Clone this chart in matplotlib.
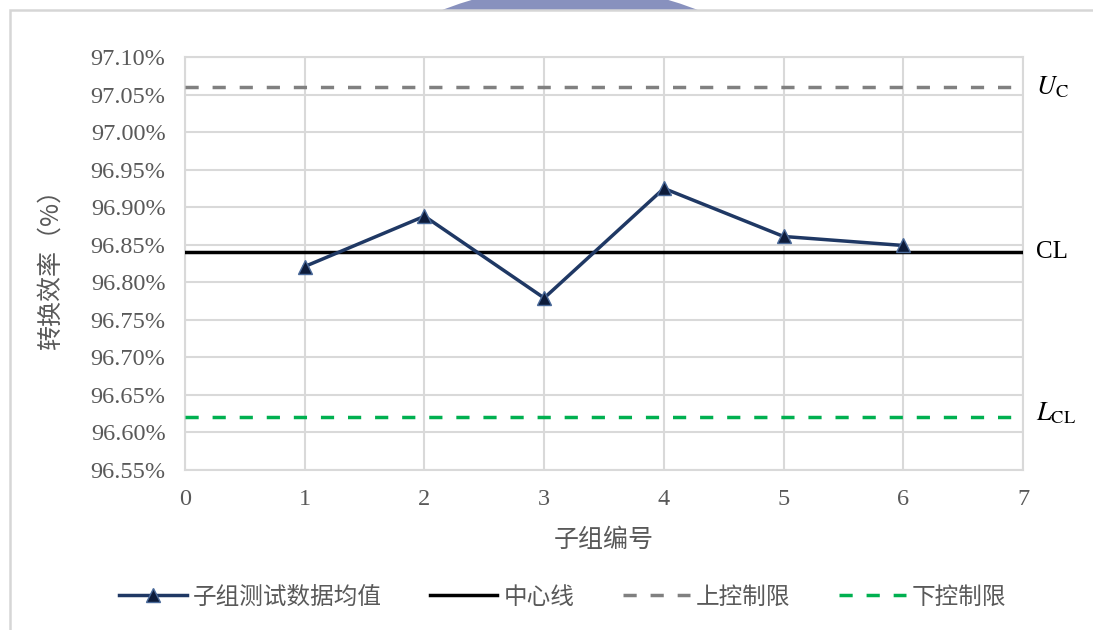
import matplotlib
matplotlib.use('Agg')
import matplotlib.pyplot as plt
from matplotlib.patches import Ellipse, Rectangle
from matplotlib.ticker import FuncFormatter, MultipleLocator

plt.rcParams['font.family'] = ['Liberation Serif', 'Noto Sans CJK SC']
plt.rcParams['mathtext.fontset'] = 'stix'

# 子组均值 (%)
groups = [1, 2, 3, 4, 5, 6]
means = [96.821, 96.888, 96.779, 96.925, 96.861, 96.849]
# 控制限 (%)
center_line = 96.84
upper_limit = 97.06
lower_limit = 96.62

labels = ['子组测试数据均值', '中心线', '上控制限', '下控制限']
text_color = '#595959'
cjk = ['Noto Sans CJK SC', 'Liberation Serif']
dashes = (0, (3.8, 4.0))

fig = plt.figure(figsize=(10.93, 6.30), dpi=100)
fig.patch.set_facecolor('white')

# 外框和顶部的色块
fig.patches.append(Ellipse((0.5215, 0.467), 0.640, 1.111, transform=fig.transFigure,
                           facecolor='#8891BE', edgecolor='none', zorder=0))
fig.patches.append(Rectangle((0.009, -0.01), 1.2, 0.994, transform=fig.transFigure,
                             facecolor='white', edgecolor='#D6D6D6', linewidth=1.8, zorder=1))

ax = fig.add_axes([0.1693, 0.254, 0.7667, 0.6555])
ax.set_zorder(2)

ax.plot(groups, means, color='#1F3864', linewidth=2.5, marker='^', markersize=10,
        markerfacecolor='#0D1B3A', markeredgecolor='#4A6A9A', markeredgewidth=1,
        label=labels[0], zorder=5)
ax.axhline(center_line, color='black', linewidth=2.5, label=labels[1], zorder=4)
ax.axhline(upper_limit, color='#808080', linewidth=2.5, linestyle=dashes,
           label=labels[2], zorder=4)
ax.axhline(lower_limit, color='#00B050', linewidth=2.5, linestyle=dashes,
           label=labels[3], zorder=4)

ax.set_xlim(0, 7)
ax.set_ylim(96.55, 97.10)
ax.xaxis.set_major_locator(MultipleLocator(1))
ax.yaxis.set_major_locator(MultipleLocator(0.05))
ax.yaxis.set_major_formatter(FuncFormatter(lambda v, p: f'{v:.2f}%'))
ax.grid(True, color='#D9D9D9', linewidth=1.5)
ax.set_axisbelow(True)
for s in ax.spines.values():
    s.set_color('#D9D9D9')
    s.set_linewidth(1.5)
ax.tick_params(length=0, labelsize=17.5, colors=text_color)
ax.tick_params(axis='y', pad=14)
ax.tick_params(axis='x', pad=14)

ax.set_xlabel('子组编号', fontsize=18, color=text_color, family=cjk,
              fontweight='light', labelpad=12)
ax.set_ylabel('转换效率（%）', fontsize=18, color=text_color, family=cjk,
              fontweight='light', labelpad=19)

# 控制线标注
ax.text(1.015, upper_limit, r'$U_\mathrm{C}$', transform=ax.get_yaxis_transform(),
        fontsize=19, va='center', ha='left', color='black')
ax.text(1.015, center_line, 'CL', transform=ax.get_yaxis_transform(),
        fontsize=18, va='center', ha='left', color='black')
ax.text(1.015, lower_limit + 0.005, r'$L_\mathrm{CL}$', transform=ax.get_yaxis_transform(),
        fontsize=19, va='center', ha='left', color='black')

leg = fig.legend(loc='center', bbox_to_anchor=(0.515, 0.052), ncol=4, frameon=False,
                 prop={'family': cjk, 'size': 17, 'weight': 'light'}, handlelength=2.85,
                 columnspacing=2.05, handletextpad=0.25)
for t in leg.get_texts():
    t.set_color(text_color)

fig.savefig('out.png', dpi=100)
